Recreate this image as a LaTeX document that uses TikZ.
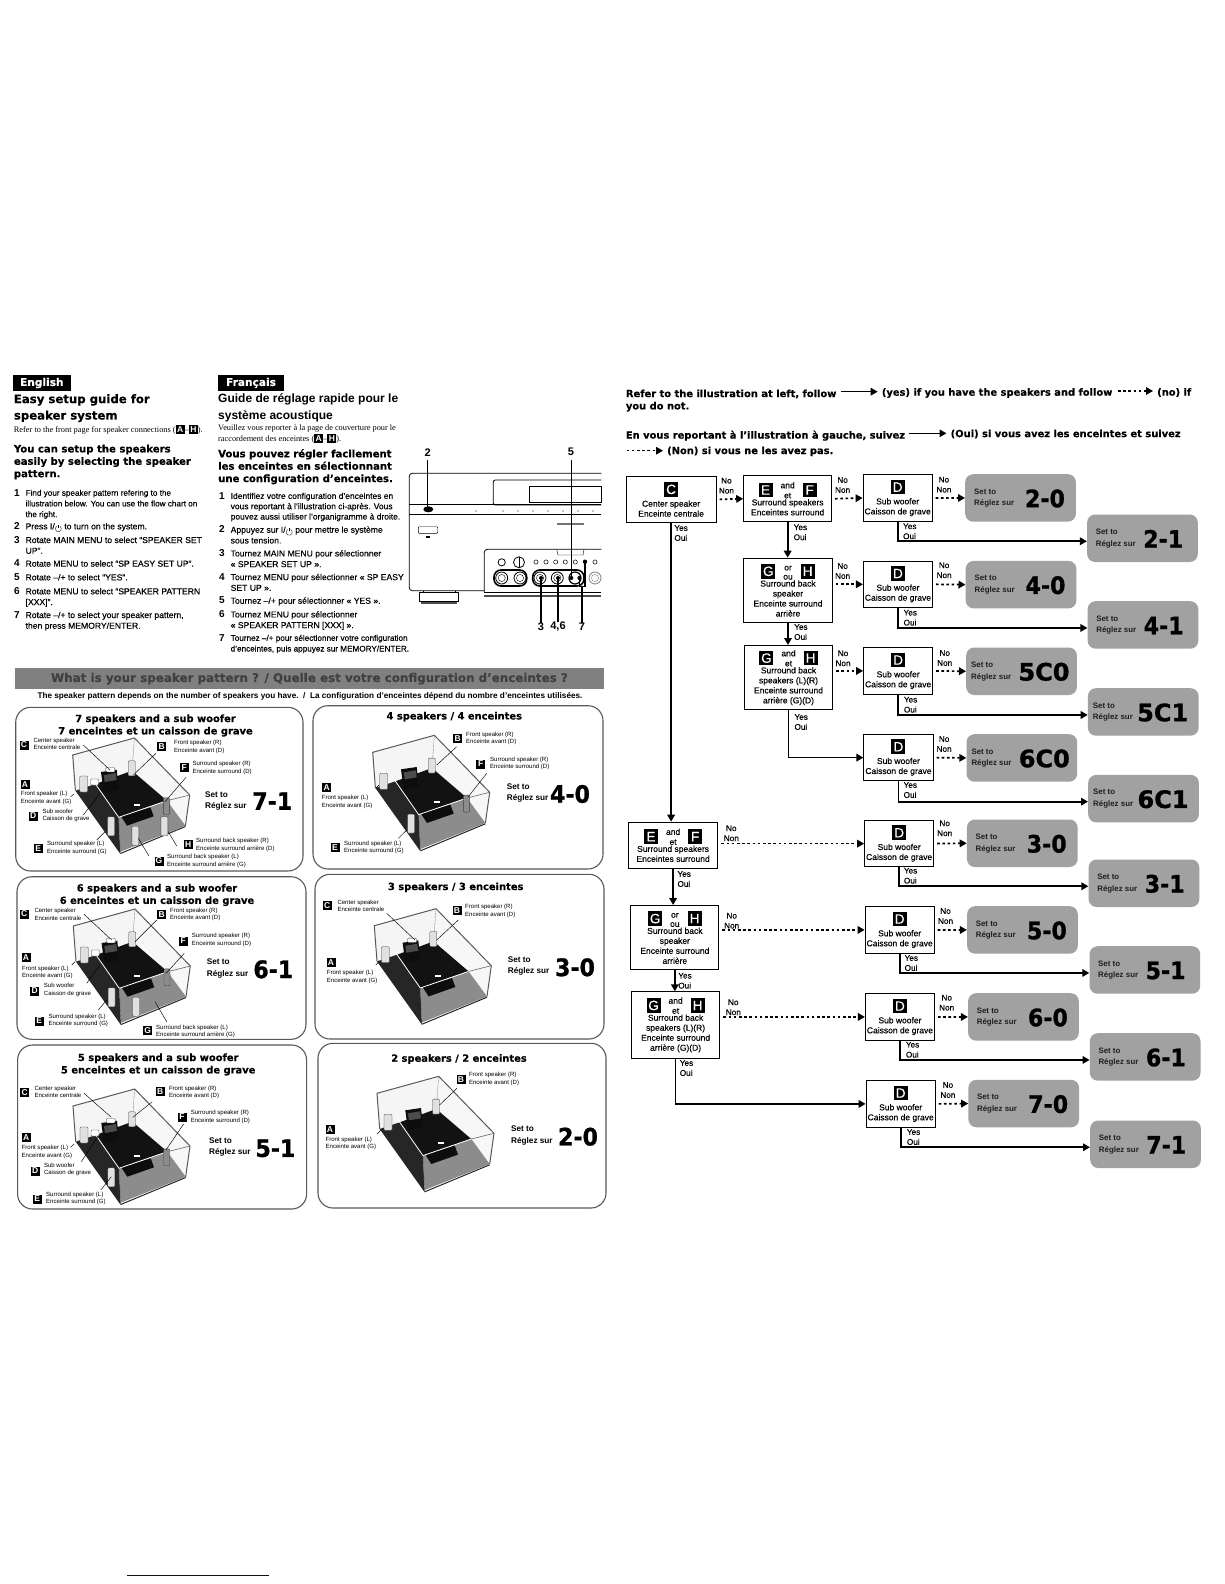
\documentclass[tikz,border=0pt]{standalone}
\usepackage{fontspec}
\setmainfont{Liberation Sans}
\newfontfamily\hvy{DejaVu Sans}[BoldFont=* Bold,BoldFeatures={FakeBold=0.35}]
\newfontfamily\blk{DejaVu Sans Bold}[FakeBold=1.1]
\newfontfamily\lsb{Liberation Sans}
\newfontfamily\lsf{Liberation Serif}
\newfontfamily\med{Liberation Sans}[FakeBold=0.25]
\usetikzlibrary{arrows.meta,calc}
\newcommand{\bdg}[1]{\tikz[baseline=(b.base)]\node[badgeS] (b) {#1};}
\newcommand{\pwr}{\tikz[baseline=-.5pt,x=1cm,y=1cm]{\draw[line width=.35pt] (1.5pt,2.6pt) arc[start angle=60,end angle=-240,radius=3pt];\draw[line width=.35pt] (0,4pt) -- (0,1pt);}}
\tikzset{
  x=1pt,y=-1pt,
  badgeS/.style={fill=black,text=white,inner sep=0pt,minimum width=9pt,minimum height=9pt,font=\lsb\bfseries\fontsize{8.5}{8.5}\selectfont},
  badgeL/.style={fill=black,text=white,inner sep=0pt,minimum width=14pt,minimum height=14.5pt,font=\med\fontsize{13.5}{13.5}\selectfont},
  fbox/.style={draw=black,line width=.9pt,fill=white,inner sep=0pt,align=center,anchor=north west,font=\med\fontsize{8.5}{10}\selectfont},
  resbox/.style={fill=black!37,rounded corners=8pt,inner sep=0pt,anchor=north west,minimum width=110.7pt,minimum height=47.5pt},
  restxt/.style={anchor=west,align=left,inner sep=0pt,text=black!88,font=\lsb\bfseries\fontsize{7.9}{11.7}\selectfont},
  bignum/.style={inner sep=0pt,font=\blk\fontsize{24}{24}\selectfont},
  yn/.style={inner sep=0pt,align=left,anchor=west,font=\med\fontsize{8.2}{10}\selectfont},
  nn/.style={inner sep=0pt,align=center,font=\med\fontsize{8.2}{10}\selectfont},
  yesarr/.style={line width=1.7pt,-{Triangle[length=7pt,width=7.5pt]}},
  noarr/.style={line width=1.7pt,dash pattern=on 2.6pt off 2.6pt,shorten <=3pt,-{Triangle[length=7pt,width=7.5pt]}},
  panel/.style={draw=black!65,line width=1.1pt,rounded corners=15pt,fill=white},
  ptitle/.style={inner sep=0pt,font=\hvy\bfseries\fontsize{9.9}{12.4}\selectfont,align=center},
  small/.style={inner sep=0pt,anchor=west,align=left,font=\lsb\fontsize{6.05}{7.6}\selectfont},
  settxt/.style={inner sep=0pt,anchor=west,align=left,font=\lsb\bfseries\fontsize{8.2}{11.4}\selectfont},
  leader/.style={draw=black,line width=.45pt},
  spk/.style={draw=black!75,line width=.35pt,fill=black!12,inner sep=0pt,rounded corners=1pt},
  spkA/.style={spk,minimum width=8pt,minimum height=16pt},
  spkB/.style={spk,minimum width=7pt,minimum height=15pt},
  spkC/.style={spk,fill=white,minimum width=9pt,minimum height=4.5pt},
  spkD/.style={spk,fill=white,minimum width=8pt,minimum height=6pt},
  spkE/.style={spk,minimum width=7pt,minimum height=19pt},
  spkF/.style={spk,fill=black!45,minimum width=6pt,minimum height=17pt},
  spkG/.style={spk,minimum width=7pt,minimum height=19pt},
  spkH/.style={spk,minimum width=7pt,minimum height=19pt},
  head/.style={inner sep=0pt,anchor=west,font=\hvy\bfseries\fontsize{10.1}{12.4}\selectfont,align=left},
  steptxt/.style={inner sep=0pt,anchor=north west,align=left,font=\med\fontsize{8.6}{10.7}\selectfont},
  steptxtn/.style={steptxt,font=\med\fontsize{8.15}{10.7}\selectfont},
  stepnum/.style={inner sep=0pt,font=\lsb\bfseries\fontsize{10}{10}\selectfont},
  callout/.style={inner sep=0pt,font=\lsb\bfseries\fontsize{11}{11}\selectfont},
  rline/.style={draw=black,line width=.8pt},
}
% ---- room illustration: #1 x, #2 y of the room's top-left corner, #3 list of speaker letters
\newcommand{\room}[3]{%
\begin{scope}[shift={(#1,#2)}]
  \fill[black!4] (0,0) -- (61.7,-17) -- (59.3,15.7) -- (2.7,35.7) -- cycle;
  \fill[black!3] (61.7,-17) -- (117,40) -- (112.7,70.7) -- (59.3,15.7) -- cycle;
  \fill[black!85] (2.7,35.7) -- (22.7,29) -- (46,62.3) -- (47.7,99) -- cycle;
  \fill[black!93] (22.7,29) -- (59.3,15.7) -- (94.3,45.7) -- (46,62.3) -- cycle;
  \fill[black!45] (46,62.3) -- (94.3,45.7) -- (112.7,70.7) -- (47.7,96.7) -- cycle;
  \draw[black!85,line width=1pt] (47.7,98.5) -- (112.7,71.5);
  \fill[black!95] (48.3,61.3) -- (77.7,52.3) -- (81,61.3) -- (54.3,70.7) -- cycle;
  \draw[black!65,line width=1pt] (2.7,35.7) -- (0,0) -- (61.7,-17) -- (117,40) -- (112.7,70.7);
  \draw[black!45,line width=.35pt] (61.7,-17) -- (59.3,15.7);
  \draw[white,line width=.8pt] (19.3,24) -- (46,62.3) -- (94.3,45.7);
  \draw[black!60,line width=.6pt] (94.3,45.7) -- (117,40);
  \draw[black!60,line width=.4pt] (46,62.3) -- (47.7,97);
  \fill[black!95] (28.3,17) -- (44,14.7) -- (46,34) -- (31,37) -- cycle;
  \fill[black!70] (31,20) -- (43,18) -- (44,25) -- (32,27) -- cycle;
  \fill[white] (61,49) rectangle (67,51);
  \foreach \s/\px/\py in {#3}{\node[spk\s] at (\px,\py) {};}
\end{scope}}
\newcommand{\lbl}[7]{% name, bx, by, letter, tx, ty, text
  \node[badgeS] (#1b) at (#2,#3) {#4};
  \node[small] (#1t) at (#5,#6) {#7};}
\newcommand{\lead}[3]{%
  \coordinate (#1a) at (#2); \coordinate (#1c) at (#3);
  \draw[leader] (#1a) -- (#1c);}
\newcommand{\res}[7]{% name x y number txtoffset numoffset xscale
  \node[resbox] (#1) at (#2,#3) {};
  \node[restxt] (#1t) at ($(#1.north west)+(#5,24)$) {Set to\\Réglez sur};
  \node[bignum] (#1n) at ($(#1.north west)+(#6,24.5)$) {\scalebox{#7}[1]{#4}};}
\newcommand{\pairline}[3]{\raisebox{-1pt}{\tikz\node[badgeL] {#1};}\hspace{8pt}\raisebox{-2pt}{\shortstack{#2}}\hspace{8pt}\raisebox{-1pt}{\tikz\node[badgeL] {#3};}}
\begin{document}
\begin{tikzpicture}
\useasboundingbox (0,0) rectangle (1224,1584);
\fill[white] (0,0) rectangle (1224,1584);

% ================= left headers =================
\node[fill=black,text=white,inner sep=0pt,minimum width=57.4pt,minimum height=15.7pt,anchor=north west,font=\hvy\bfseries\fontsize{10.6}{11}\selectfont] (enhdr) at (12.9,375) {English};
\node[head,font=\hvy\bfseries\fontsize{11.7}{16.4}\selectfont,anchor=north west] (entitle) at (13.7,394) {Easy setup guide for\\speaker system};
\node[inner sep=0pt,anchor=west,font=\lsf\fontsize{8.35}{9}\selectfont] (enref) at (13.7,429.3) {Refer to the front page for speaker connections (\bdg{A}–\bdg{H}).};
\node[head,anchor=north west] (enhead) at (13.7,444.5) {You can setup the speakers\\easily by selecting the speaker\\pattern.};
\node[stepnum] (en1) at (17,492.7) {1}; \node[steptxtn] (en1t) at (25.4,489.6) {Find your speaker pattern refering to the\\illustration below. You can use the flow chart on\\the right.};
\node[stepnum] (en2) at (17,526) {2}; \node[steptxt] (en2t) at (25.4,522.9) {Press I/\pwr{} to turn on the system.};
\node[stepnum] (en3) at (17,539.7) {3}; \node[steptxt] (en3t) at (25.4,536.6) {Rotate MAIN MENU to select “SPEAKER SET\\UP”.};
\node[stepnum] (en4) at (17,563.3) {4}; \node[steptxt] (en4t) at (25.4,560.2) {Rotate MENU to select “SP EASY SET UP”.};
\node[stepnum] (en5) at (17,577) {5}; \node[steptxt] (en5t) at (25.4,573.9) {Rotate –/+ to select “YES”.};
\node[stepnum] (en6) at (17,591) {6}; \node[steptxt] (en6t) at (25.4,587.9) {Rotate MENU to select “SPEAKER PATTERN\\{[}XXX{]}”.};
\node[stepnum] (en7) at (17,614.7) {7}; \node[steptxt] (en7t) at (25.4,611.6) {Rotate –/+ to select your speaker pattern,\\then press MEMORY/ENTER.};

\node[fill=black,text=white,inner sep=0pt,minimum width=65.6pt,minimum height=16pt,anchor=north west,font=\hvy\bfseries\fontsize{10.6}{11}\selectfont] (frhdr) at (218,374.7) {Français};
\node[inner sep=0pt,anchor=north west,align=left,font=\lsb\bfseries\fontsize{12}{16.6}\selectfont] (frtitle) at (218,393.5) {Guide de réglage rapide pour le\\système acoustique};
\node[inner sep=0pt,anchor=north west,align=left,font=\lsf\fontsize{8.3}{10.4}\selectfont] (frref) at (218,425) {Veuillez vous reporter à la page de couverture pour le\\raccordement des enceintes (\bdg{A}–\bdg{H}).};
\node[head,anchor=north west] (frhead) at (218,449) {Vous pouvez régler facilement\\les enceintes en sélectionnant\\une configuration d’enceintes.};
\node[stepnum] (fr1) at (222,495.7) {1}; \node[steptxt,font=\med\fontsize{8.45}{10.3}\selectfont] (fr1t) at (230.5,492.6) {Identifiez votre configuration d’enceintes en\\vous reportant à l’illustration ci-après. Vous\\pouvez aussi utiliser l’organigramme à droite.};
\node[stepnum] (fr2) at (222,529.3) {2}; \node[steptxt] (fr2t) at (230.5,526.2) {Appuyez sur I/\pwr{} pour mettre le système\\sous tension.};
\node[stepnum] (fr3) at (222,553) {3}; \node[steptxt] (fr3t) at (230.5,549.9) {Tournez MAIN MENU pour sélectionner\\« SPEAKER SET UP ».};
\node[stepnum] (fr4) at (222,576.7) {4}; \node[steptxt] (fr4t) at (230.5,573.6) {Tournez MENU pour sélectionner « SP EASY\\SET UP ».};
\node[stepnum] (fr5) at (222,600.3) {5}; \node[steptxt] (fr5t) at (230.5,597.2) {Tournez –/+ pour sélectionner « YES ».};
\node[stepnum] (fr6) at (222,614) {6}; \node[steptxt] (fr6t) at (230.5,610.9) {Tournez MENU pour sélectionner\\« SPEAKER PATTERN [XXX] ».};
\node[stepnum] (fr7) at (222,637.7) {7}; \node[steptxtn] (fr7t) at (230.5,634.6) {Tournez –/+ pour sélectionner votre configuration\\d’enceintes, puis appuyez sur MEMORY/ENTER.};

% ================= receiver =================
\draw[rline,rounded corners=3pt] (601.3,473.3) -- (409.3,473.3) -- (409.3,590.7) -- (484.3,590.7);
\draw[rline,rounded corners=2pt] (601.3,480) -- (493.3,480) -- (493.3,505) -- (601.3,505);
\draw[rline,line width=.4pt] (529.3,486) rectangle (601.3,502);
\draw[rline,line width=.4pt] (409.3,504) -- (601.3,504);
\draw[rline,line width=.4pt] (409.3,514) -- (601.3,514);
\foreach \dx in {476,503,518,533,548,563,578,593}{\fill (\dx,511) circle (.6);}
\draw[rline,line width=.4pt,rounded corners=1pt] (418.3,526.7) rectangle (437.7,533.3);
\fill (426,536) rectangle (430,537.5);
\fill[black!55] (556.7,523) rectangle (584,525);
\draw[rline,rounded corners=3pt] (601.3,549.3) -- (484.3,549.3) -- (484.3,592) ;
\draw[rline] (484.3,592) -- (601.3,592);
\draw[rline,line width=1.2pt,black!70] (484.3,596) -- (601.3,596);
\draw[rline,line width=.4pt] (556.7,549.3) -- (558,555) -- (583,555) -- (584,549.3);
\draw[rline] (501.7,562.3) circle (3.6);
\draw[rline] (519,562.3) circle (5.5);
\draw[rline,line width=.4pt] (519,557) -- (519,567.5);
\foreach \dx in {536,546,555.7,565.3,575.3,595}{\draw[rline,line width=.5pt] (\dx,562) circle (2.1);}
\draw[line width=1.6pt,rounded corners=7pt] (494,570) rectangle (526.7,586);
\draw[line width=1.6pt,rounded corners=7pt] (532.7,570) rectangle (584,586);
\foreach \dx in {501.7,520,540,557.3}{\draw[rline] (\dx,578) circle (6);\draw[rline,line width=.4pt] (\dx,578) circle (3.6);}
\draw[line width=1.2pt] (575,578) circle (6);
\draw[rline,line width=.8pt,black!50] (595,578) circle (6);
\draw[rline,line width=.4pt,black!50] (595,578) circle (3.6);
\draw[rline,fill=white] (419.3,592.7) rectangle (458.3,601.7);
\fill[black!70] (421,601.7) rectangle (456.5,603.5);
\draw[rline,fill=white,line width=.4pt] (423,590.7) -- (423,592.7) (455,590.7) -- (455,592.7);
\fill (428.3,509.3) ellipse (5 and 3);
\node[callout] (c2) at (427.7,452.3) {2};
\node[callout] (c5) at (571,451.7) {5};
\node[callout] (c3) at (541,626.7) {3};
\node[callout] (c46) at (558,626.7) {4,6};
\node[callout] (c7) at (582,626.7) {7};
\coordinate (k2) at (427.7,509.3);
\coordinate (k5) at (571.3,578);
\coordinate (k3) at (c3 |- 0,578);
\coordinate (k46) at (c46 |- 0,578);
\coordinate (k7a) at (585,561.7);
\coordinate (k7b) at (579.3,578);
\coordinate (k7c) at (c7 |- 0,586.7);
\draw[line width=1.1pt] (c2.south |- 0,460) -- (k2);
\draw[line width=1.1pt] (571.3,460) -- (k5);
\draw[line width=1.1pt] (c3.north) -- (k3);
\draw[line width=1.1pt] (c46.north) -- (k46);
\draw[line width=1.1pt] (c7.north) -- (k7c);
\fill (k7a) circle (2.2); \fill (k5) circle (2); \fill (k3) circle (2); \fill (k46) circle (2); \fill (k7b) circle (2);
\draw[line width=1.1pt] (k7a) -- (585,586.7) -- (579.3,586.7) -- (k7b);

% ================= banner =================
\node[fill=black!50,inner sep=0pt,minimum width=589.5pt,minimum height=21pt,anchor=north west,text=black!75,font=\hvy\bfseries\fontsize{11.9}{12}\selectfont] (banner) at (14.5,668) {What is your speaker pattern ? / Quelle est votre configuration d’enceintes ?};
\node[inner sep=0pt,font=\lsb\bfseries\fontsize{8.2}{9}\selectfont] (caption) at (310,696) {The speaker pattern depends on the number of speakers you have.\ \ /\ \ La configuration d’enceintes dépend du nombre d’enceintes utilisées.};

% ================= panel 7-1 =================
\draw[panel] (15.7,707.3) rectangle (303,871);
\node[ptitle] (p1t) at (155.5,725.5) {7 speakers and a sub woofer\\7 enceintes et un caisson de grave};
\room{72.7}{755}{A/11/29,C/37.7/14.7,B/59/13.3,D/22/27,F/93.7/51.3,E/38.3/71.3,G/62.7/80.7,H/91.7/71.3}
\lbl{p1C}{24}{745}{C}{33.3}{744}{Center speaker\\Enceinte centrale}
\lbl{p1B}{161.7}{746.7}{B}{174}{747}{Front speaker (R)\\Enceinte avant (D)}
\lbl{p1F}{184.3}{767.7}{F}{192.3}{767.7}{Surround speaker (R)\\Enceinte surround (D)}
\lbl{p1A}{25}{784.3}{A}{20.7}{797.7}{Front speaker (L)\\Enceinte avant (G)}
\lbl{p1D}{33.3}{816}{D}{42.3}{815.3}{Sub woofer\\Caisson de grave}
\lbl{p1E}{38.3}{848.3}{E}{47}{848}{Surround speaker (L)\\Enceinte surround (G)}
\lbl{p1H}{188.3}{844.3}{H}{196}{844.7}{Surround back speaker (R)\\Enceinte surround arrière (D)}
\lbl{p1G}{159}{861}{G}{167}{861}{Surround back speaker (L)\\Enceinte surround arrière (G)}
\lead{l1C}{83.3,745}{110,770}\lead{l1B}{156,753.3}{133.3,775}\lead{l1F}{186,777.3}{165,801.7}
\lead{l1A}{74,794}{70.7,796.7}\lead{l1D}{100,793.3}{83.3,815}\lead{l1E}{105,831.7}{96.7,840}
\lead{l1H}{168.3,831.7}{176.7,846}\lead{l1G}{138.3,838.3}{149,856}
\node[settxt] (p1s) at (205,801) {Set to\\Réglez sur};
\node[bignum] (p1n) at (272.3,801) {\scalebox{.92}[1]{7-1}};

% ================= panel 6-1 =================
\draw[panel] (17,876.7) rectangle (306,1039.3);
\node[ptitle] (p2t) at (157,895) {6 speakers and a sub woofer\\6 enceintes et un caisson de grave};
\room{73.3}{926}{A/11/29,C/37.7/14.7,B/59/13.3,D/22/27,F/93.7/51.3,E/38.3/71.3,G/62.7/80.7}
\lbl{p2C}{24.3}{914}{C}{34.3}{914.3}{Center speaker\\Enceinte centrale}
\lbl{p2B}{161.7}{914.3}{B}{170}{914.3}{Front speaker (R)\\Enceinte avant (D)}
\lbl{p2F}{183.3}{941}{F}{191.7}{940}{Surround speaker (R)\\Enceinte surround (D)}
\lbl{p2A}{26}{957.7}{A}{22}{972.3}{Front speaker (L)\\Enceinte avant (G)}
\lbl{p2D}{34.7}{991}{D}{43.7}{989.7}{Sub woofer\\Caisson de grave}
\lbl{p2E}{39.3}{1021}{E}{48.3}{1020.3}{Surround speaker (L)\\Enceinte surround (G)}
\lbl{p2G}{147.7}{1030.7}{G}{156}{1031.3}{Surround back speaker (L)\\Enceinte surround arrière (G)}
\lead{l2C}{84,914.3}{111.7,940}\lead{l2B}{156.7,920}{135,941.7}\lead{l2F}{184.3,953.3}{166,973.3}
\lead{l2A}{75,961.7}{71.7,965}\lead{l2D}{100,965}{86.7,983.3}\lead{l2E}{106.7,1000}{98.3,1010}
\lead{l2G}{155,1001.7}{166.7,1021.7}
\node[settxt] (p2s) at (206.7,968.3) {Set to\\Réglez sur};
\node[bignum] (p2n) at (273.3,969.3) {\scalebox{.92}[1]{6-1}};

% ================= panel 5-1 =================
\draw[panel] (17.6,1045) rectangle (306.6,1209);
\node[ptitle] (p3t) at (158.2,1064.5) {5 speakers and a sub woofer\\5 enceintes et un caisson de grave};
\room{73}{1106}{A/11/29,C/37.7/14.7,B/59/13.3,D/22/27,F/93.7/51.3,E/38.3/71.3}
\lbl{p3C}{24.6}{1092.3}{C}{34.4}{1092}{Center speaker\\Enceinte centrale}
\lbl{p3B}{160.2}{1091.3}{B}{168.8}{1092.3}{Front speaker (R)\\Enceinte avant (D)}
\lbl{p3F}{182}{1117}{F}{190.6}{1117}{Surround speaker (R)\\Enceinte surround (D)}
\lbl{p3A}{26.2}{1137.7}{A}{21.5}{1151.7}{Front speaker (L)\\Enceinte avant (G)}
\lbl{p3D}{35.2}{1171}{D}{43.8}{1169.3}{Sub woofer\\Caisson de grave}
\lbl{p3E}{37.1}{1199}{E}{46}{1198.3}{Surround speaker (L)\\Enceinte surround (G)}
\lead{l3C}{84,1093.3}{111.3,1117.3}\lead{l3B}{152.3,1101.7}{132.8,1117.3}\lead{l3F}{183.6,1124}{166,1150}
\lead{l3A}{74.2,1144}{70.3,1147.3}\lead{l3D}{97.7,1136.7}{81.3,1161.7}\lead{l3E}{111.3,1176.7}{100.8,1190}
\node[settxt] (p3s) at (209,1147.2) {Set to\\Réglez sur};
\node[bignum] (p3n) at (275.4,1148.3) {\scalebox{.92}[1]{5-1}};

% ================= panel 4-0 =================
\draw[panel] (313,705.7) rectangle (603,869);
\node[ptitle] (p4t) at (454.3,716.7) {4 speakers / 4 enceintes};
\room{372.7}{752.3}{A/11/29,B/59/13.3,F/93.7/51.3,E/38.3/71.3}
\lbl{p4B}{457.7}{738.3}{B}{466}{738.3}{Front speaker (R)\\Enceinte avant (D)}
\lbl{p4F}{480.7}{764}{F}{490}{763.3}{Surround speaker (R)\\Enceinte surround (D)}
\lbl{p4A}{326.7}{787.7}{A}{321.7}{802}{Front speaker (L)\\Enceinte avant (G)}
\lbl{p4E}{335}{847.7}{E}{344}{847.3}{Surround speaker (L)\\Enceinte surround (G)}
\lead{l4B}{456.7,746.7}{436.7,765}\lead{l4F}{486.7,773.3}{468.3,796.7}
\lead{l4A}{379,785}{375.7,788.3}\lead{l4E}{406.7,830}{398.3,838.3}
\node[settxt] (p4s) at (506.7,793) {Set to\\Réglez sur};
\node[bignum] (p4n) at (570,794) {\scalebox{.92}[1]{4-0}};

% ================= panel 3-0 =================
\draw[panel] (315,874.3) rectangle (604,1039);
\node[ptitle] (p5t) at (455.7,887.3) {3 speakers / 3 enceintes};
\room{374.3}{925.7}{A/11/29,C/37.7/14.7,B/59/13.3}
\lbl{p5C}{327.3}{905.7}{C}{337.3}{906}{Center speaker\\Enceinte centrale}
\lbl{p5B}{457}{910.7}{B}{465}{911}{Front speaker (R)\\Enceinte avant (D)}
\lbl{p5A}{331}{962.7}{A}{326.7}{976.7}{Front speaker (L)\\Enceinte avant (G)}
\lead{l5C}{386.7,913.3}{415,940}\lead{l5B}{458.3,920}{436.7,940}\lead{l5A}{379,961.7}{375.7,965}
\node[settxt] (p5s) at (507.7,966) {Set to\\Réglez sur};
\node[bignum] (p5n) at (575,967.3) {\scalebox{.92}[1]{3-0}};

% ================= panel 2-0 =================
\draw[panel] (318,1043.3) rectangle (606,1208);
\node[ptitle] (p6t) at (459,1059) {2 speakers / 2 enceintes};
\room{377}{1093.3}{A/11/29,B/59/13.3}
\lbl{p6B}{461}{1079.3}{B}{468.8}{1079}{Front speaker (R)\\Enceinte avant (D)}
\lbl{p6A}{330}{1129.3}{A}{325.4}{1143.3}{Front speaker (L)\\Enceinte avant (G)}
\lead{l6B}{457,1088.3}{439.5,1105}\lead{l6A}{380.9,1130}{377,1134}
\node[settxt] (p6s) at (511,1135.5) {Set to\\Réglez sur};
\node[bignum] (p6n) at (578,1136.7) {\scalebox{.92}[1]{2-0}};

% ================= right header =================
\tikzset{rh/.style={inner sep=0pt,anchor=west,font=\hvy\bfseries\fontsize{9.9}{10}\selectfont}}
\node[rh] (r1a) at (625.7,394) {Refer to the illustration at left, follow};
\node[rh] (r1b) at (881.7,393) {(yes) if you have the speakers and follow};
\node[rh] (r1c) at (1157,392.5) {(no) if};
\node[rh] (r2) at (625.7,406.7) {you do not.};
\node[rh] (r3a) at (625.7,435.7) {En vous reportant à l’illustration à gauche, suivez};
\node[rh] (r3b) at (950.5,434) {(Oui) si vous avez les enceintes et suivez};
\node[rh] (r4b) at (667,451.3) {(Non) si vous ne les avez pas.};
\coordinate (d4a) at (626.5,450.7);
\draw[yesarr,line width=1.3pt,shorten >=4pt] (r1a.east |- 0,391.7) ++(4,0) -- (r1b.west |- 0,391.7);
\draw[noarr,line width=1.3pt,shorten <=0pt,shorten >=4pt] (1118,391) -- (r1c.west |- 0,391);
\draw[yesarr,line width=1.3pt,shorten >=4pt] (r3a.east |- 0,433.3) ++(4,0) -- (r3b.west |- 0,433.3);
\draw[noarr,line width=1.3pt,shorten <=0pt,shorten >=4pt] (d4a) -- (r4b.west |- d4a);

% ================= flow chart boxes =================
\node[fbox,minimum width=90.1pt,minimum height=46pt] (qC) at (625.6,476) {\tikz\node[badgeL] {C};\\Center speaker\\Enceinte centrale};
\node[fbox,minimum width=88pt,minimum height=46pt] (qEF) at (743.2,475.3) {\pairline{E}{and\\[1.5pt]et}{F}\\[-1pt]Surround speakers\\Enceintes surround};
\node[fbox,minimum width=88.5pt,minimum height=64.3pt] (qGH) at (743.3,557.7) {\pairline{G}{or\\[1.5pt]ou}{H}\\[-1pt]Surround back\\speaker\\Enceinte surround\\arrière};
\node[fbox,minimum width=88.5pt,minimum height=64.3pt] (qGHa) at (743.8,645) {\pairline{G}{and\\[1.5pt]et}{H}\\[-1pt]Surround back\\speakers (L)(R)\\Enceinte surround\\arrière (G)(D)};
\node[fbox,minimum width=89.5pt,minimum height=46.3pt] (qEFb) at (627.9,821.7) {\pairline{E}{and\\[1.5pt]et}{F}\\[-1pt]Surround speakers\\Enceintes surround};
\node[fbox,minimum width=88pt,minimum height=64.3pt] (qGHb) at (630.4,905) {\pairline{G}{or\\[1.5pt]ou}{H}\\[-1pt]Surround back\\speaker\\Enceinte surround\\arrière};
\node[fbox,minimum width=88.5pt,minimum height=66.4pt] (qGHc) at (630.9,991.3) {\pairline{G}{and\\[1.5pt]et}{H}\\[-1pt]Surround back\\speakers (L)(R)\\Enceinte surround\\arrière (G)(D)};
\newcommand{\sw}[3]{\node[fbox,minimum width=69.2pt,minimum height=46.3pt] (#1) at (#2,#3) {\tikz\node[badgeL] {D};\\Sub woofer\\Caisson de grave};}
\sw{d1}{862.6}{474.4}\sw{d2}{862.9}{560.7}\sw{d3}{863.1}{647.3}\sw{d4}{863.4}{734}
\sw{d5}{864.1}{820}\sw{d6}{864.6}{906.3}\sw{d7}{864.9}{993.3}\sw{d8}{865.6}{1080.3}

% results
\res{r20}{965}{474}{2-0}{9}{80}{.92}
\res{r21}{1086.9}{514.3}{2-1}{8.7}{76.3}{.92}
\res{r40}{965.5}{560.7}{4-0}{9}{80}{.92}
\res{r41}{1087.4}{601}{4-1}{8.7}{76.3}{.92}
\res{r50}{966}{647.3}{5C0}{5}{78}{1}
\res{r51}{1087.7}{688}{5C1}{5}{75}{1}
\res{r60}{966.3}{734}{6C0}{5}{78}{1}
\res{r61}{1088}{774.7}{6C1}{5}{75}{1}
\res{r30}{966.7}{819.3}{3-0}{8.7}{80}{.92}
\res{r31}{1088.4}{859.3}{3-1}{8.7}{76.3}{.92}
\res{r52}{966.9}{906}{5-0}{8.7}{80}{.92}
\res{r53}{1089.3}{946}{5-1}{8.7}{76.3}{.92}
\res{r62}{967.9}{993}{6-0}{8.7}{80}{.92}
\res{r63}{1089.6}{1033}{6-1}{8.7}{76.3}{.92}
\res{r70}{968.2}{1079.6}{7-0}{8.7}{80}{.92}
\res{r71}{1090}{1120.3}{7-1}{8.7}{76.3}{.92}

% ================= flow chart connectors =================
\draw[noarr] (qC.east) -- (qEF.west);
\draw[noarr] (qEF.east) -- (d1.west);
\draw[noarr] (d1.east) -- (r20.west);
\draw[noarr] (qGH.east |- d2.west) -- (d2.west);
\draw[noarr] (d2.east) -- (r40.west);
\draw[noarr] (qGHa.east |- d3.west) -- (d3.west);
\draw[noarr] (d3.east) -- (r50.west);
\draw[noarr] (d4.east) -- (r60.west);
\draw[noarr] (qEFb.east |- d5.west) -- (d5.west);
\draw[noarr] (d5.east) -- (r30.west);
\draw[noarr] (qGHb.east |- d6.west) -- (d6.west);
\draw[noarr] (d6.east) -- (r52.west);
\draw[noarr] (qGHc.east |- d7.west) -- (d7.west);
\draw[noarr] (d7.east) -- (r62.west);
\draw[noarr] (d8.east) -- (r70.west);

\draw[yesarr] (qC.south) -- (qC.south |- qEFb.north);
\draw[yesarr] (qEF.south) -- (qEF.south |- qGH.north);
\draw[yesarr] (qGH.south) -- (qGH.south |- qGHa.north);
\draw[yesarr] (qGHa.south) |- (d4.west);
\draw[yesarr] (qEFb.south) -- (qEFb.south |- qGHb.north);
\draw[yesarr] (qGHb.south) -- (qGHb.south |- qGHc.north);
\draw[yesarr] (qGHc.south) |- (d8.west);
\foreach \a/\b in {d1/r21,d2/r41,d3/r51,d4/r61,d5/r31,d6/r53,d7/r63,d8/r71}{
  \draw[yesarr] (\a.south) |- ([yshift=-3pt]\b.west);
}

% labels
\foreach \n/\px/\py in {n1/726.4/485.7,n2/842.6/485,n3/943.9/484.7,n4/842.6/571,n5/944.1/570.3,n6/843/658.3,n7/944.7/658,n8/944.1/744,
  n9/731.3/833.3,n10/944.7/828.3,n11/731.7/920.7,n12/945.5/916,n13/733.3/1007.3,n14/946.7/1002.7,n15/947.9/1090}{
  \node[nn] (\n) at (\px,\py) {No\\Non};
}
\foreach \n/\px/\py in {y1/674.2/533,y2/793.5/532.3,y3/902.9/531.3,y4/794/632,y5/903.4/617.7,y6/794.3/722,y7/903.7/704.7,y8/903.4/790,
  y9/677.3/879,y10/903.7/875.7,y11/678.1/980.7,y12/904.4/963,y13/679.6/1068,y14/905.7/1049.7,y15/906.7/1137}{
  \node[yn] (\n) at (\px,\py) {Yes\\Oui};
}

% bottom rule
\definecolor{scanblue}{rgb}{0,0,.6}
\draw[draw=scanblue,line width=.9pt] (127.3,1575) -- (268.7,1575);
\end{tikzpicture}
\end{document}
